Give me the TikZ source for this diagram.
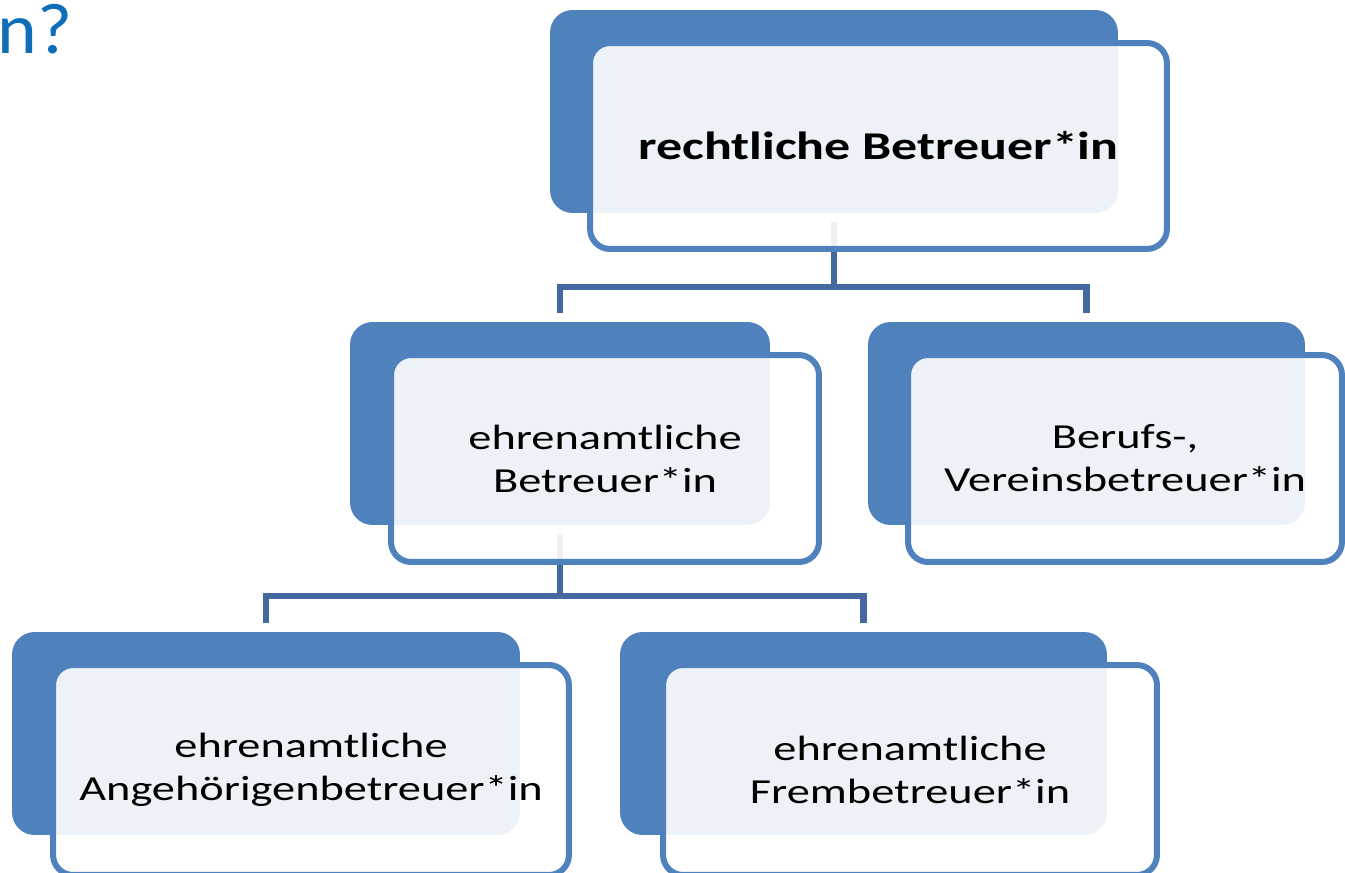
\documentclass[tikz,border=0pt]{standalone}
\usepackage{fontspec}
\setmainfont{Carlito}[FakeStretch=1.32]
\newfontfamily\headfont{Carlito}[FakeStretch=1.05]
\usepackage{tikz}

\definecolor{boxblue}{HTML}{4F81BD}
\definecolor{linkblue}{HTML}{43699E}
\definecolor{headblue}{HTML}{0E6EB8}

\begin{document}
\begin{tikzpicture}[x=0.02cm, y=-0.02cm,
	back box/.style={rectangle, rounded corners=0.45cm, fill=boxblue, inner sep=0pt, minimum height=4.06cm},
	front box/.style={rectangle, rounded corners=0.4cm, draw=boxblue, line width=0.12cm, fill=white, fill opacity=0.9, text opacity=1, inner sep=0pt, align=center, font=\fontsize{20}{24.5}\selectfont},
	link/.style={draw=linkblue, line width=0.13cm, shorten <=0.18cm, shorten >=0.18cm}]

	\clip (0,0) rectangle (1345,872);

	\node[anchor=base west, inner sep=0pt, text=headblue, font=\headfont\fontsize{41}{44}\selectfont] (heading) at (-3,53) {n?};

	% hintere Flaechen
	\node[back box, minimum width=11.36cm] (rb-back) at (834,111.5) {};
	\node[back box, minimum width=8.4cm] (eb-back) at (560,423.5) {};
	\node[back box, minimum width=8.74cm] (bv-back) at (1086.5,423.5) {};
	\node[back box, minimum width=10.16cm] (ab-back) at (266,733.5) {};
	\node[back box, minimum width=9.74cm] (fb-back) at (863.5,733.5) {};

	% Verbindungen
	\coordinate (rb-split) at (834,287);
	\coordinate (eb-split) at (560,596);
	\draw[link] (rb-back.south) -- (rb-split) -| (eb-back.north);
	\draw[link, shorten <=0pt] (rb-split) -| (bv-back.north);
	\draw[link] (eb-back.south) -- (eb-split) -| (ab-back.north);
	\draw[link, shorten <=0pt] (eb-split) -| (fb-back.north);

	% vordere Kaesten
	\node[front box, minimum width=11.54cm, minimum height=4.12cm, font=\fontsize{22.4}{26}\selectfont\bfseries] (rb) at (878.5,146) {rechtliche Betreuer*in};
	\node[front box, minimum width=8.56cm, minimum height=4.14cm] (eb) at (605,458.5) {ehrenamtliche\\Betreuer*in};
	\node[front box, minimum width=8.68cm, minimum height=4.14cm] (bv) at (1125,458.5) {Berufs-,\\Vereinsbetreuer*in};
	\node[front box, minimum width=10.32cm, minimum height=4.2cm] (ab) at (311,770) {ehrenamtliche\\Angehörigenbetreuer*in};
	\node[front box, minimum width=9.88cm, minimum height=4.2cm] (fb) at (910,770) {ehrenamtliche\\Frembetreuer*in};
\end{tikzpicture}
\end{document}
